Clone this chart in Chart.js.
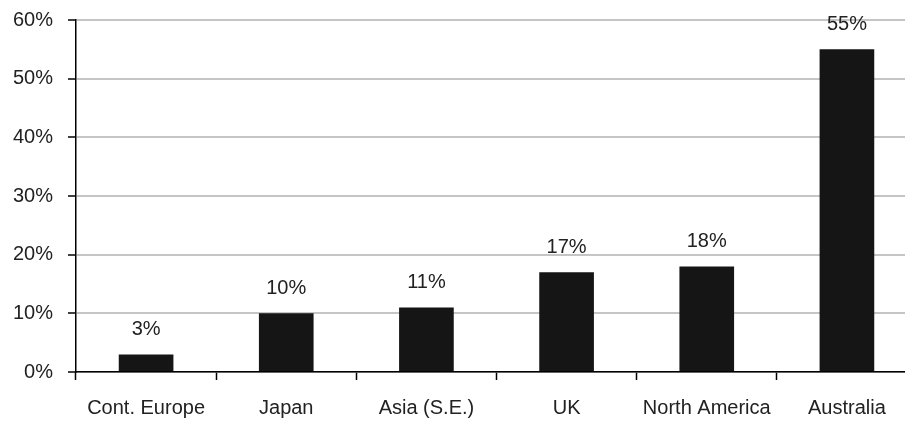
<!DOCTYPE html>
<html>
<head>
<meta charset="utf-8">
<script src="https://cdn.jsdelivr.net/npm/chart.js@4"></script>
<style>
  html, body { margin: 0; padding: 0; background: #fff; overflow: hidden; }
  #wrap { width: 920px; height: 423px; position: relative; }
</style>
</head>
<body>
<div id="wrap"><canvas id="c"></canvas></div>
<script>
const regions = ['Cont. Europe', 'Japan', 'Asia (S.E.)', 'UK', 'North America', 'Australia'];
const shares = [3, 10, 11, 17, 18, 55];
const yTicks = [0, 10, 20, 30, 40, 50, 60];

const FONT = 'Liberation Sans, Arial, sans-serif';
const TEXT = '#222';

// Writes each bar's value above it
const valueLabels = {
  id: 'valueLabels',
  afterDatasetsDraw(chart) {
    const ctx = chart.ctx;
    const meta = chart.getDatasetMeta(0);
    ctx.save();
    ctx.font = '20px ' + FONT;
    ctx.fillStyle = TEXT;
    ctx.textAlign = 'center';
    ctx.textBaseline = 'alphabetic';
    meta.data.forEach((bar, i) => {
      ctx.fillText(shares[i] + '%', bar.x, bar.y - 19);
    });
    ctx.restore();
  }
};

new Chart(document.getElementById('c'), {
  type: 'bar',
  data: {
    labels: regions,
    datasets: [{
      data: shares,
      backgroundColor: '#151515',
      borderWidth: 0,
      barPercentage: 0.39,
      categoryPercentage: 1
    }]
  },
  options: {
    responsive: true,
    maintainAspectRatio: false,
    animation: false,
    layout: { padding: { left: 12, top: 20, right: 3, bottom: 0 } },
    plugins: { legend: { display: false }, tooltip: { enabled: false } },
    scales: {
      x: {
        afterFit(axis) { axis.height = 51; },
        grid: {
          offset: true,
          drawOnChartArea: false,
          drawTicks: true,
          tickLength: 8,
          tickColor: '#000',
          tickWidth: 1.5
        },
        border: { color: '#000', width: 1.5 },
        ticks: { color: TEXT, font: { family: FONT, size: 20 }, padding: 16, maxRotation: 0 }
      },
      y: {
        min: 0,
        max: 60,
        afterBuildTicks(axis) { axis.ticks = yTicks.map(v => ({ value: v })); },
        afterFit(axis) {
          axis.width = 64;
          axis.paddingTop = 0;
          axis.paddingBottom = 0;
        },
        grid: {
          color: 'rgba(140,140,140,0.5)',
          lineWidth: 2,
          drawTicks: true,
          tickLength: 8,
          tickColor: '#000',
          tickWidth: 1.5
        },
        border: { color: '#000', width: 1.5 },
        ticks: {
          color: TEXT,
          font: { family: FONT, size: 20 },
          padding: 15,
          callback: v => v + '%'
        }
      }
    }
  },
  plugins: [valueLabels]
});
</script>
</body>
</html>
